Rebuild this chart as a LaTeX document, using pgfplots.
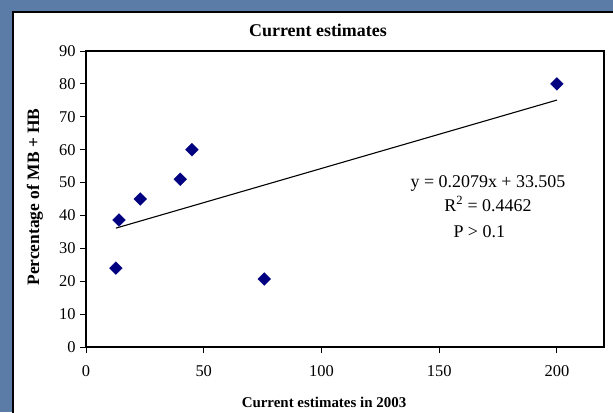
\documentclass[border=0pt]{standalone}
\usepackage{fontspec}
\setmainfont{Liberation Serif}
\usepackage{pgfplots}
\pgfplotsset{compat=1.18}
\definecolor{bgblue}{HTML}{5B7CA6}
\definecolor{navy}{HTML}{000080}
\begin{document}
\begin{tikzpicture}[x=1bp,y=1bp]
\fill[bgblue] (0,0) rectangle (613,412);
\fill[white] (13,-5) rectangle (620,400);
\draw[black,line width=2bp] (13,-5) -- (13,400) -- (620,400);
\begin{axis}[
  at={(86bp,65bp)}, anchor=south west,
  scale only axis, width=518bp, height=296bp,
  xmin=0, xmax=220, ymin=0, ymax=90,
  xtick={0,50,...,200}, ytick={0,10,...,90},
  tick pos=left, tick align=outside,
  major tick length=6bp,
  tick style={black, line width=0.9bp},
  axis line style={line width=1.3bp},
  ticklabel style={font=\fontsize{16.5}{16.5}\selectfont},
  /pgf/number format/assume math mode=true,
  xticklabel style={yshift=-9bp},
  yticklabel style={xshift=-1bp},
  clip=false,
]
\addplot[only marks, mark=square*, mark size=4.5bp, color=navy, mark options={fill=navy, draw=navy, rotate=45}]
  coordinates {(12.7,24) (14,38.6) (23,45) (40,51) (45,60) (75.7,20.7) (200,80)};
\addplot[black, line width=1.1bp] coordinates {(12.7,36.145) (200,75.085)};
\end{axis}
\node[font=\bfseries\fontsize{18}{18}\selectfont] at (318,382) {Current estimates};
\node[font=\bfseries\fontsize{15}{15}\selectfont] at (324,10) {Current estimates in 2003};
\node[font=\bfseries\fontsize{17.5}{17.5}\selectfont, rotate=90] at (35,215) {Percentage of MB + HB};
\node[font=\fontsize{18}{18}\selectfont] at (488,229) {y = 0.2079x + 33.505};
\node[font=\fontsize{18}{18}\selectfont] at (488,208) {R\textsuperscript{2} = 0.4462};
\node[font=\fontsize{18}{18}\selectfont, anchor=west] at (450,180) {P > 0.1};
\pgfresetboundingbox
\useasboundingbox (0,0) rectangle (613,412);
\end{tikzpicture}
\end{document}
